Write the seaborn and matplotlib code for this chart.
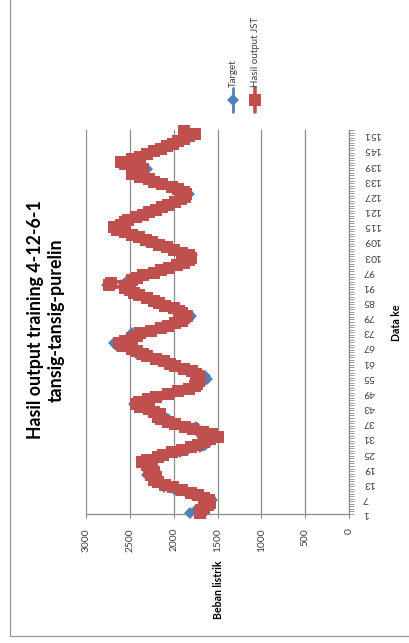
import matplotlib
matplotlib.use("Agg")
import matplotlib.pyplot as plt
import seaborn as sns
import pandas as pd
from matplotlib.lines import Line2D
from matplotlib.patches import Rectangle
from matplotlib.ticker import FixedLocator

# ---- data -------------------------------------------------------------
data_ke = list(range(1, 153))

target = [
    1810, 1750, 1640, 1600, 1580, 1560, 1620, 1780, 1850, 1980,
    2110, 2050, 2150, 2200, 2250, 2300, 2200, 2250, 2300, 2280,
    2330, 2250, 2150, 2100, 1930, 1850, 1700, 1640, 1600, 1570,
    1520, 1580, 1720, 1760, 1750, 1950, 2040, 2060, 2130, 2200,
    2180, 2250, 2330, 2450, 2420, 2250, 2160, 2080, 1960, 1850,
    1740, 1700, 1650, 1620, 1640, 1700, 1760, 1850, 1950, 2060,
    2140, 2220, 2280, 2420, 2470, 2450, 2650, 2680, 2600, 2520,
    2450, 2470, 2250, 2190, 2100, 1950, 1880, 1830, 1800, 1880,
    1900, 1960, 2080, 2150, 2210, 2280, 2380, 2420, 2470, 2540,
    2760, 2700, 2520, 2400, 2330, 2210, 2130, 2060, 1940, 1880,
    1850, 1810, 1790, 1890, 1980, 2060, 2150, 2230, 2300, 2380,
    2460, 2540, 2620, 2640, 2620, 2580, 2540, 2400, 2340, 2260,
    2180, 2140, 2040, 2000, 1950, 1880, 1830, 1900, 1920, 1990,
    2100, 2200, 2250, 2350, 2450, 2400, 2300, 2400, 2520, 2580,
    2450, 2350, 2270, 2200, 2130, 2060, 1990, 1960, 1870, 1830,
    1780, 1870,
]

hasil_jst = [
    1700, 1690, 1650, 1610, 1590, 1600, 1650, 1720, 1800, 1900,
    2010, 2100, 2180, 2230, 2200, 2260, 2230, 2280, 2250, 2300,
    2360, 2300, 2180, 2120, 2020, 1900, 1800, 1720, 1650, 1580,
    1500, 1560, 1660, 1780, 1870, 1990, 2060, 2150, 2180, 2160,
    2230, 2280, 2380, 2430, 2400, 2290, 2200, 2060, 1950, 1820,
    1760, 1730, 1710, 1700, 1720, 1740, 1790, 1880, 1980, 2040,
    2110, 2200, 2300, 2350, 2420, 2470, 2580, 2620, 2560, 2480,
    2420, 2380, 2260, 2150, 2060, 1980, 1910, 1880, 1850, 1900,
    1940, 2000, 2100, 2170, 2230, 2300, 2400, 2450, 2500, 2560,
    2740, 2720, 2480, 2420, 2350, 2230, 2150, 2050, 1960, 1880,
    1830, 1800, 1820, 1900, 2000, 2080, 2170, 2250, 2320, 2400,
    2480, 2560, 2650, 2680, 2600, 2560, 2520, 2430, 2350, 2280,
    2200, 2130, 2060, 1990, 1920, 1870, 1860, 1880, 1950, 2020,
    2130, 2220, 2280, 2380, 2480, 2430, 2350, 2420, 2550, 2600,
    2470, 2380, 2300, 2230, 2150, 2080, 2010, 1950, 1880, 1820,
    1760, 1880,
]

category_labels = [str(i) for i in range(1, 152, 6)]
value_ticks = [0, 500, 1000, 1500, 2000, 2500, 3000]

title_text = "Hasil output training 4-12-6-1\ntansig-tansig-purelin"
value_axis_title = "Beban listrik"
category_axis_title = "Data ke"
series_names = ["Target", "Hasil output JST"]

# ---- styling ------------------------------------------------------------
BLUE = "#4F81BD"
RED = "#C0504D"
GRID = "#8C8C8C"
TEXT = "#404040"

sns.set_theme(style="white")
plt.rcParams["font.family"] = ["Lato", "DejaVu Sans"]

W, H = 409, 643
fig = plt.figure(figsize=(W / 100, H / 100), dpi=100)
fig.patch.set_facecolor("white")


def fx(px):
    return px / W


def fy(py):
    return 1 - py / H


# chart frame (left and bottom edges visible)
fig.patches.append(Rectangle((fx(10), fy(636)), 1.2, 1.2, transform=fig.transFigure,
                             fill=False, edgecolor="#9A9A9A", linewidth=0.9))

ax = fig.add_axes([fx(86), fy(514), fx(349) - fx(86), fy(130) - fy(514)])
ax.set_facecolor("none")

df = pd.DataFrame({"data_ke": data_ke, "Target": target, "Hasil output JST": hasil_jst})

sns.lineplot(data=df, x="Target", y="data_ke", orient="y", sort=False, estimator=None,
             color=BLUE, marker="D", markersize=6, markeredgewidth=0, linewidth=2.0,
             ax=ax, clip_on=False, zorder=3)
sns.lineplot(data=df, x="Hasil output JST", y="data_ke", orient="y", sort=False,
             estimator=None, color=RED, marker="s", markersize=8, markeredgewidth=0,
             linewidth=2.6, ax=ax, clip_on=False, zorder=4)

ax.set_xlim(3000, 0)
ax.set_ylim(0.5, 152.5)
ax.set_xlabel("")
ax.set_ylabel("")

# value axis (bottom)
ax.set_xticks(value_ticks)
ax.set_xticklabels([str(v) for v in value_ticks], rotation=90, fontsize=7.4, color=TEXT)
ax.grid(axis="x", color=GRID, linewidth=0.9)
ax.grid(axis="y", visible=False)

# category axis (right)
ax.yaxis.tick_right()
ax.set_yticks([int(c) for c in category_labels])
ax.set_yticklabels(category_labels, rotation=180, fontsize=7.4, color=TEXT)
ax.yaxis.set_minor_locator(FixedLocator([i + 0.5 for i in range(0, 153)]))
ax.tick_params(axis="y", which="major", length=0, pad=10)
ax.tick_params(axis="y", which="minor", right=True, left=False, length=3.5,
               width=0.6, color=GRID, direction="out")
ax.tick_params(axis="x", which="major", bottom=True, length=3, width=0.8,
               color=GRID, direction="out", pad=7)

for side in ("left", "top"):
    ax.spines[side].set_visible(False)
for side in ("right", "bottom"):
    ax.spines[side].set_visible(True)
    ax.spines[side].set_color(GRID)
    ax.spines[side].set_linewidth(0.9)

# titles
fig.text(fx(46), fy(320), title_text, rotation=90, ha="center", va="center",
         fontsize=12.8, fontweight="bold", color="black", linespacing=1.3,
         multialignment="center")
fig.text(fx(219), fy(590), value_axis_title, rotation=90, ha="center", va="center",
         fontsize=7.6, fontweight="bold", color="black")
fig.text(fx(396), fy(323), category_axis_title, rotation=90, ha="center", va="center",
         fontsize=7.6, fontweight="bold", color="black")

# legend
for name, xpx, col, mk, ms, lw in [(series_names[0], 233, BLUE, "D", 6, 2.0),
                                   (series_names[1], 255, RED, "s", 8, 2.6)]:
    fig.add_artist(Line2D([fx(xpx), fx(xpx)], [fy(112), fy(88)], transform=fig.transFigure,
                          color=col, linewidth=lw))
    fig.add_artist(Line2D([fx(xpx)], [fy(100)], transform=fig.transFigure, color=col,
                          marker=mk, markersize=ms, markeredgewidth=0, linestyle="none"))
    fig.text(fx(xpx), fy(87), name, rotation=90, ha="center", va="bottom",
             fontsize=7.0, color=TEXT)

fig.savefig("out.png", dpi=100)
